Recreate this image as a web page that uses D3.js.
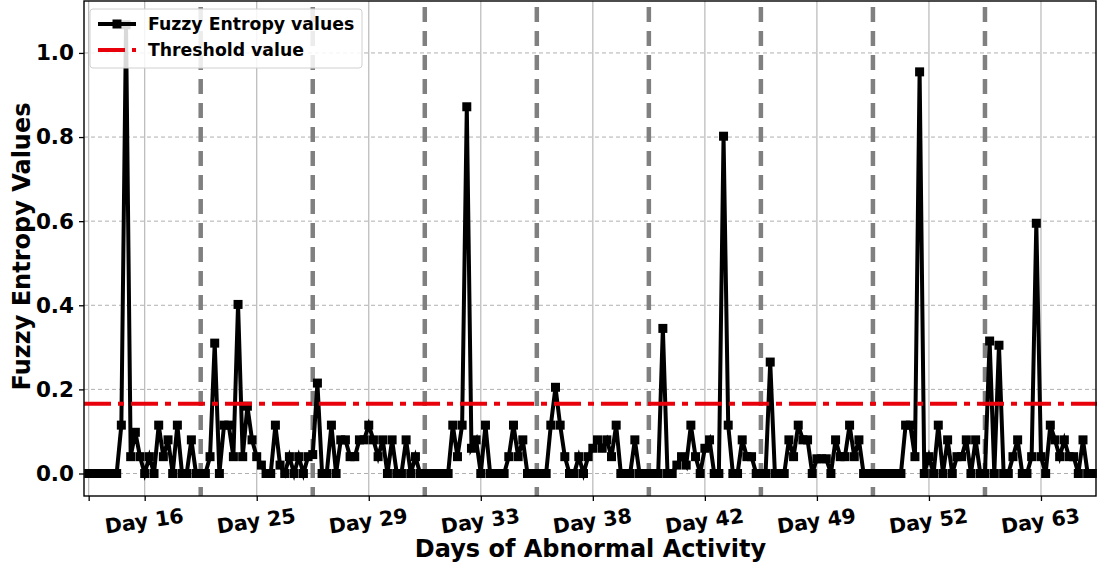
<!DOCTYPE html>
<html>
<head>
<meta charset="utf-8">
<script src="https://cdn.jsdelivr.net/npm/d3@7"></script>
<style>
  html, body { margin: 0; padding: 0; background: #fff; }
  svg { display: block; font-family: "DejaVu Sans", sans-serif; font-weight: bold; }
</style>
</head>
<body>
<svg id="chart" width="1097" height="566"></svg>
<script>
// Hourly fuzzy entropy readings, 24 samples per day window
const entropyValues = [
  // Day 16
  0, 0, 0, 0, 0, 0, 0, 0.115, 1.067, 0.04, 0.098, 0.04, 0, 0.04, 0, 0.115, 0.04, 0.08, 0, 0.115, 0, 0, 0.08, 0,
  // Day 25
  0, 0, 0.04, 0.31, 0, 0.115, 0.115, 0.04, 0.402, 0.04, 0.16, 0.08, 0.04, 0.02, 0, 0, 0.115, 0.02, 0, 0.04, 0, 0.04, 0, 0.04,
  // Day 29
  0.045, 0.215, 0, 0, 0.115, 0, 0.08, 0.08, 0.04, 0.04, 0.08, 0.08, 0.115, 0.08, 0.04, 0.08, 0, 0.08, 0, 0, 0.08, 0, 0.04, 0,
  // Day 33
  0, 0, 0, 0, 0, 0, 0.115, 0.04, 0.115, 0.872, 0.06, 0.08, 0, 0.115, 0, 0, 0, 0, 0.04, 0.115, 0.04, 0.08, 0, 0,
  // Day 38
  0, 0, 0, 0.115, 0.205, 0.115, 0.04, 0, 0, 0.04, 0, 0.04, 0.06, 0.08, 0.06, 0.08, 0.04, 0.115, 0, 0, 0, 0.08, 0, 0,
  // Day 42
  0, 0, 0, 0.345, 0, 0, 0.02, 0.04, 0.02, 0.115, 0.04, 0, 0.06, 0.08, 0, 0, 0.802, 0.115, 0, 0, 0.08, 0.04, 0.04, 0,
  // Day 49
  0, 0, 0.265, 0, 0, 0, 0.08, 0.04, 0.115, 0.08, 0.08, 0, 0.035, 0.035, 0.035, 0, 0.08, 0.04, 0.04, 0.115, 0.04, 0.08, 0, 0,
  // Day 52
  0, 0, 0, 0, 0, 0, 0, 0.115, 0.115, 0.04, 0.955, 0, 0.04, 0, 0.115, 0, 0.08, 0, 0.04, 0.04, 0.08, 0, 0.08, 0,
  // Day 63
  0, 0.315, 0, 0.305, 0, 0, 0.04, 0.08, 0, 0, 0.04, 0.595, 0.04, 0, 0.115, 0.08, 0.04, 0.08, 0.04, 0.04, 0, 0.08, 0, 0
];

const thresholdValue = 0.166;

// Tick positions on the sample index axis and their labels
const xTickPositions = [0, 12, 36, 60, 84, 108, 132, 156, 180, 204];
const xTickLabels = ["", "Day 16", "Day 25", "Day 29", "Day 33", "Day 38", "Day 42", "Day 49", "Day 52", "Day 63"];
// Boundaries between consecutive day windows
const dayBoundaries = [24, 48, 72, 96, 120, 144, 168, 192];
const yTickValues = [0.0, 0.2, 0.4, 0.6, 0.8, 1.0];

const svg = d3.select("#chart");
const plotLeft = 84, plotRight = 1097, plotTop = 1, plotBottom = 496;

const x = d3.scaleLinear().domain([-1, 216]).range([plotLeft, plotRight]);
const y = d3.scaleLinear().domain([-0.0535, 1.1235]).range([plotBottom, plotTop]);

const points = entropyValues.map((v, i) => ({ i, v }));

// Clip region for plot contents
svg.append("defs").append("clipPath").attr("id", "plotClip")
  .append("rect").attr("x", plotLeft).attr("y", plotTop)
  .attr("width", plotRight - plotLeft).attr("height", plotBottom - plotTop);

const plot = svg.append("g").attr("clip-path", "url(#plotClip)");

// Vertical grid at labelled ticks
plot.append("g").selectAll("line").data(xTickPositions).join("line")
  .attr("x1", d => x(d)).attr("x2", d => x(d))
  .attr("y1", plotTop).attr("y2", plotBottom)
  .attr("stroke", "#b8b8b8").attr("stroke-width", 1.2);

// Horizontal dashed grid
plot.append("g").selectAll("line").data(yTickValues).join("line")
  .attr("x1", plotLeft).attr("x2", plotRight)
  .attr("y1", d => y(d)).attr("y2", d => y(d))
  .attr("stroke", "#b0b0b0").attr("stroke-width", 1)
  .attr("stroke-dasharray", "4,3");

// Day boundary separators
plot.append("g").selectAll("line").data(dayBoundaries).join("line")
  .attr("x1", d => x(d)).attr("x2", d => x(d))
  .attr("y1", plotTop + 6).attr("y2", plotBottom)
  .attr("stroke", "#808080").attr("stroke-width", 4.5)
  .attr("stroke-dasharray", "15,9");

// Entropy series
const line = d3.line().x(d => x(d.i)).y(d => y(d.v));
plot.append("path").datum(points)
  .attr("d", line)
  .attr("fill", "none").attr("stroke", "#000").attr("stroke-width", 4)
  .attr("stroke-linejoin", "miter");

const ms = 9;
plot.append("g").selectAll("rect").data(points).join("rect")
  .attr("x", d => x(d.i) - ms / 2).attr("y", d => y(d.v) - ms / 2)
  .attr("width", ms).attr("height", ms).attr("fill", "#000");

// Threshold line
plot.append("line")
  .attr("x1", plotLeft).attr("x2", plotRight)
  .attr("y1", y(thresholdValue)).attr("y2", y(thresholdValue))
  .attr("stroke", "#e8000b").attr("stroke-width", 4)
  .attr("stroke-dasharray", "27,7,6,7");

// Axes
const xAxis = d3.axisBottom(x).tickValues(xTickPositions)
  .tickFormat((d, k) => xTickLabels[k]).tickSize(5).tickPadding(6);
const gx = svg.append("g").attr("transform", `translate(0,${plotBottom})`).call(xAxis);
gx.select(".domain").remove();
gx.selectAll(".tick line").attr("stroke", "#000").attr("stroke-width", 1.3);
gx.selectAll(".tick text")
  .attr("font-size", 20.5).attr("font-weight", "bold").attr("fill", "#000")
  .attr("font-family", "DejaVu Sans")
  .attr("dy", null).attr("y", 0)
  .attr("text-anchor", "middle")
  .attr("transform", "translate(0,32) rotate(-8)");

const yAxis = d3.axisLeft(y).tickValues(yTickValues)
  .tickFormat(d3.format(".1f")).tickSize(5).tickPadding(5);
const gy = svg.append("g").attr("transform", `translate(${plotLeft},0)`).call(yAxis);
gy.select(".domain").remove();
gy.selectAll(".tick line").attr("stroke", "#000").attr("stroke-width", 1.3);
gy.selectAll(".tick text")
  .attr("font-size", 21.5).attr("font-weight", "bold").attr("fill", "#000")
  .attr("font-family", "DejaVu Sans");

// Plot frame
svg.append("rect").attr("x", plotLeft).attr("y", plotTop)
  .attr("width", plotRight - plotLeft - 1).attr("height", plotBottom - plotTop)
  .attr("fill", "none").attr("stroke", "#000").attr("stroke-width", 1.4);

// Axis titles
svg.append("text").attr("x", (plotLeft + plotRight) / 2).attr("y", 557)
  .attr("text-anchor", "middle").attr("font-size", 24).attr("fill", "#000")
  .text("Days of Abnormal Activity");
svg.append("text").attr("transform", `translate(30,${(plotTop + plotBottom) / 2 - 2}) rotate(-90)`)
  .attr("text-anchor", "middle").attr("font-size", 24).attr("fill", "#000")
  .text("Fuzzy Entropy Values");

// Legend
const legend = svg.append("g");
legend.append("rect").attr("x", 90).attr("y", 9).attr("width", 272).attr("height", 59)
  .attr("rx", 3).attr("fill", "#fff").attr("fill-opacity", 0.85)
  .attr("stroke", "#d0d0d0").attr("stroke-width", 1);
legend.append("line").attr("x1", 98).attr("x2", 136).attr("y1", 24).attr("y2", 24)
  .attr("stroke", "#000").attr("stroke-width", 4);
legend.append("rect").attr("x", 117 - ms / 2).attr("y", 24 - ms / 2).attr("width", ms).attr("height", ms).attr("fill", "#000");
legend.append("text").attr("x", 148).attr("y", 30).attr("font-size", 17.3).attr("fill", "#000")
  .text("Fuzzy Entropy values");
legend.append("line").attr("x1", 98).attr("x2", 136).attr("y1", 50).attr("y2", 50)
  .attr("stroke", "#e8000b").attr("stroke-width", 4).attr("stroke-dasharray", "27,7,6,7");
legend.append("text").attr("x", 148).attr("y", 56).attr("font-size", 17.3).attr("fill", "#000")
  .text("Threshold value");
</script>
</body>
</html>
